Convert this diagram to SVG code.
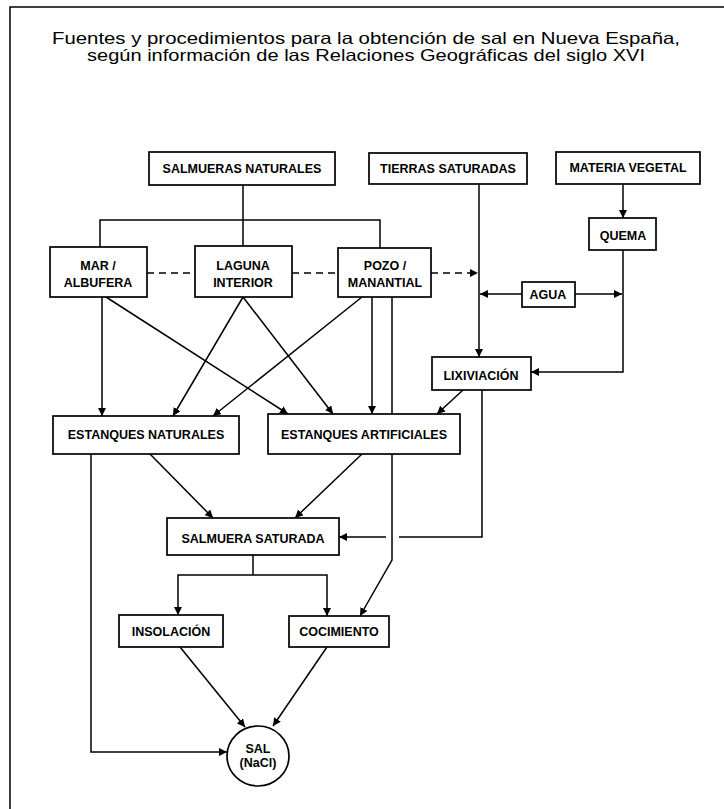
<svg xmlns="http://www.w3.org/2000/svg" width="724" height="809" viewBox="0 0 724 809">
<style>
.box{fill:#fff;stroke:#000;stroke-width:1.7}
.lbl{font-family:"Liberation Sans",Arial,sans-serif;font-weight:bold;font-size:12.5px;text-anchor:middle;fill:#000}
.ttl{font-family:"Liberation Sans",Arial,sans-serif;font-size:16.5px;fill:#000}
.ln{fill:none;stroke:#000;stroke-width:1.5}
.dash{stroke-dasharray:7 5}
</style>
<defs>
<marker id="ah" markerUnits="userSpaceOnUse" markerWidth="9" markerHeight="8" refX="8" refY="4" orient="auto">
<path d="M0,0 L8,4 L0,8 z" fill="#000"/>
</marker>
</defs>
<rect width="724" height="809" fill="#fff"/>
<g id="frame" class="ln">
<path d="M10,809 V7 H724"/>
</g>
<g id="title">
<text class="ttl" x="52" y="44" textLength="628" lengthAdjust="spacingAndGlyphs">Fuentes y procedimientos para la obtención de sal en Nueva España,</text>
<text class="ttl" x="87" y="61" textLength="558" lengthAdjust="spacingAndGlyphs">según información de las Relaciones Geográficas del siglo XVI</text>
</g>
<g id="connectors" class="ln">
<path d="M243,185 V246"/>
<path d="M100,247 V220 H380 V248"/>
<path class="ln dash" d="M147,273 H195"/>
<path class="ln dash" d="M292,273 H338"/>
<path class="ln dash" d="M431,273 H478" marker-end="url(#ah)"/>
<path d="M479,184 V357" marker-end="url(#ah)"/>
<path d="M623,184 V218" marker-end="url(#ah)"/>
<path d="M623,250 V372 H531" marker-end="url(#ah)"/>
<path d="M522,294 H480" marker-end="url(#ah)"/>
<path d="M575,294 H622" marker-end="url(#ah)"/>
<path d="M102,297 V416" marker-end="url(#ah)"/>
<path d="M106,297 L288,414" marker-end="url(#ah)"/>
<path d="M243,297 L173,416" marker-end="url(#ah)"/>
<path d="M243,297 L333,414" marker-end="url(#ah)"/>
<path d="M362,297 L213,416" marker-end="url(#ah)"/>
<path d="M372,297 V414" marker-end="url(#ah)"/>
<path d="M392,297 V560 L360,616" marker-end="url(#ah)"/>
<path d="M463,390 L437,414" marker-end="url(#ah)"/>
<path d="M482,390 V537 H399 M386,537 H339" marker-end="url(#ah)"/>
<path d="M150,454 L213,518" marker-end="url(#ah)"/>
<path d="M362,454 L295,518" marker-end="url(#ah)"/>
<path d="M91,454 V752 H227" marker-end="url(#ah)"/>
<path d="M253,555 V575"/>
<path d="M253,575 H178 V615" marker-end="url(#ah)"/>
<path d="M253,575 H327 V616" marker-end="url(#ah)"/>
<path d="M180,647 L245,727" marker-end="url(#ah)"/>
<path d="M327,647 L273,726" marker-end="url(#ah)"/>
</g>
<g id="salmueras-naturales"><rect class="box" x="149" y="152" width="186" height="33"/><text class="lbl" x="242" y="173">SALMUERAS NATURALES</text></g>
<g id="tierras-saturadas"><rect class="box" x="369" y="153" width="158" height="31"/><text class="lbl" x="448" y="173">TIERRAS SATURADAS</text></g>
<g id="materia-vegetal"><rect class="box" x="556" y="152" width="144" height="32"/><text class="lbl" x="628" y="172">MATERIA VEGETAL</text></g>
<g id="mar-albufera"><rect class="box" x="50" y="247" width="97" height="50"/><text class="lbl" x="98" y="270">MAR /</text><text class="lbl" x="98" y="287">ALBUFERA</text></g>
<g id="laguna-interior"><rect class="box" x="195" y="246" width="97" height="51"/><text class="lbl" x="243" y="270">LAGUNA</text><text class="lbl" x="243" y="287">INTERIOR</text></g>
<g id="pozo-manantial"><rect class="box" x="338" y="248" width="93" height="49"/><text class="lbl" x="385" y="270">POZO /</text><text class="lbl" x="385" y="287">MANANTIAL</text></g>
<g id="quema"><rect class="box" x="589" y="218" width="67" height="32"/><text class="lbl" x="623" y="240">QUEMA</text></g>
<g id="agua"><rect class="box" x="522" y="282" width="53" height="25"/><text class="lbl" x="548" y="299">AGUA</text></g>
<g id="lixiviacion"><rect class="box" x="432" y="357" width="99" height="33"/><text class="lbl" x="481" y="380">LIXIVIACIÓN</text></g>
<g id="estanques-naturales"><rect class="box" x="53" y="416" width="186" height="38"/><text class="lbl" x="146" y="439">ESTANQUES NATURALES</text></g>
<g id="estanques-artificiales"><rect class="box" x="268" y="414" width="192" height="40"/><text class="lbl" x="364" y="439">ESTANQUES ARTIFICIALES</text></g>
<g id="salmuera-saturada"><rect class="box" x="167" y="518" width="172" height="37"/><text class="lbl" x="253" y="543">SALMUERA SATURADA</text></g>
<g id="insolacion"><rect class="box" x="119" y="615" width="104" height="32"/><text class="lbl" x="171" y="636">INSOLACIÓN</text></g>
<g id="cocimiento"><rect class="box" x="289" y="616" width="100" height="31"/><text class="lbl" x="339" y="636">COCIMIENTO</text></g>
<g id="sal"><ellipse class="box" cx="258" cy="756" rx="31" ry="30" stroke-width="2"/><text class="lbl" x="258" y="753" font-size="10.5">SAL</text><text class="lbl" x="258" y="767" font-size="10.5">(NaCl)</text></g>
</svg>
